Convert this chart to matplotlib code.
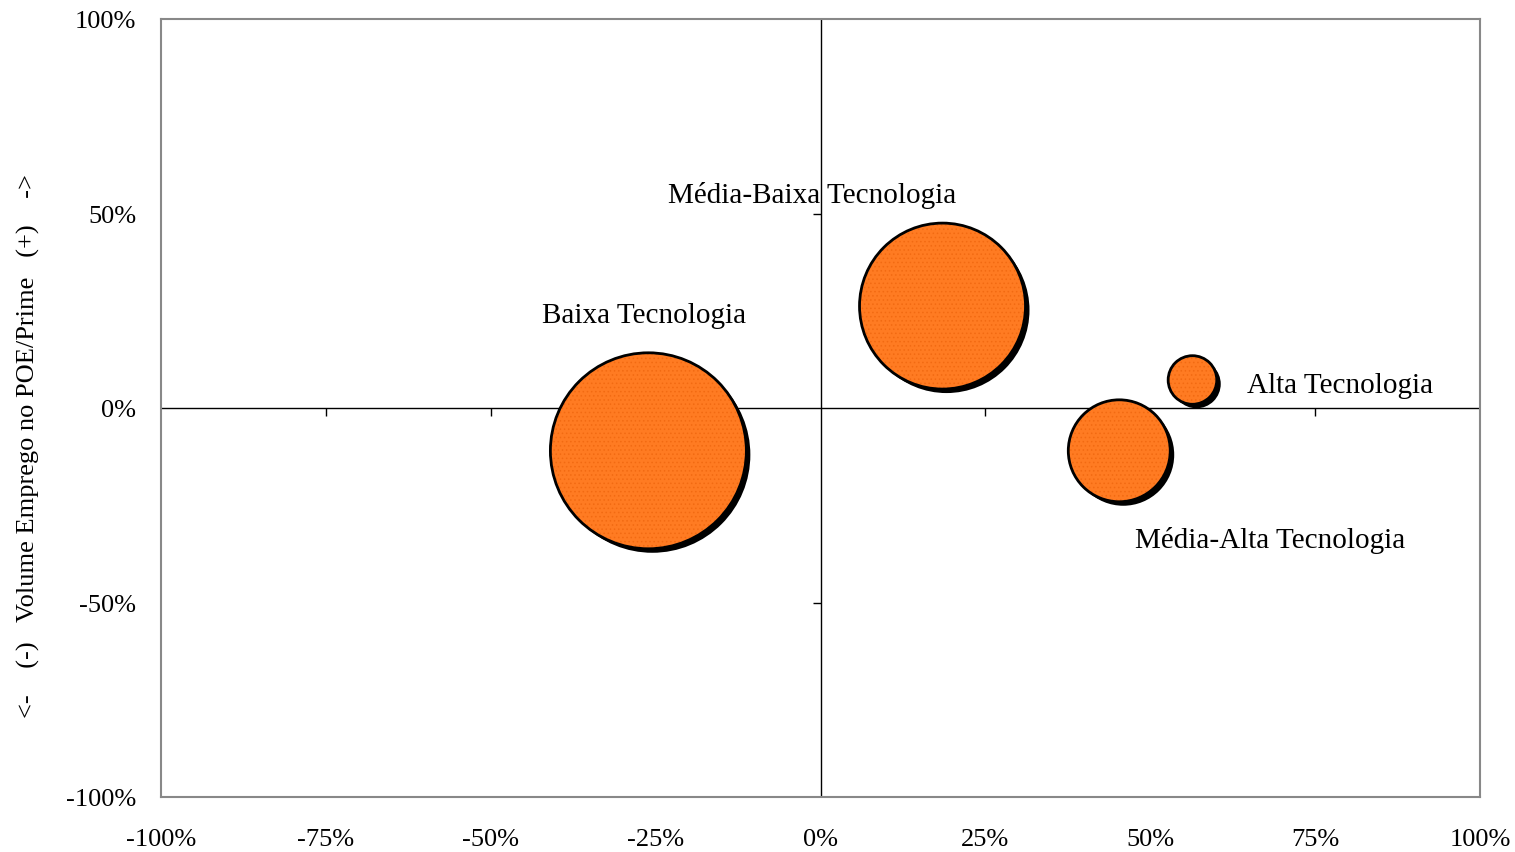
import matplotlib
matplotlib.use("Agg")
import matplotlib.pyplot as plt
import matplotlib.transforms as mtransforms
from matplotlib.ticker import PercentFormatter

# grupos tecnológicos: variação (%) e peso no emprego
grupos = ["Baixa Tecnologia", "Média-Baixa Tecnologia",
          "Média-Alta Tecnologia", "Alta Tecnologia"]
var_x = [-26.1, 18.5, 45.3, 56.4]
var_y = [-11.0, 26.2, -11.0, 7.2]
peso = [48.8, 35.0, 13.2, 3.0]

ticks_x = [-100, -75, -50, -25, 0, 25, 50, 75, 100]
ticks_y = [-100, -50, 0, 50, 100]

# posição dos rótulos (em % nos eixos)
rot_x = [-26.7, -1.2, 68.2, 78.8]
rot_y = [23.8, 54.9, -33.8, 5.8]

plt.rcParams["font.family"] = ["Liberation Serif", "DejaVu Serif"]
plt.rcParams["axes.unicode_minus"] = False

fig = plt.figure(figsize=(15.15, 8.53), dpi=100)
ax = fig.add_axes([161 / 1515, 1 - 798 / 853, 1319 / 1515, 778 / 853])
ax.set_xlim(-100, 100)
ax.set_ylim(-100, 100)

for s in ax.spines.values():
    s.set_color("#888888")
    s.set_linewidth(1.5)

ax.set_xticks(ticks_x)
ax.set_yticks(ticks_y)
ax.xaxis.set_major_formatter(PercentFormatter(decimals=0))
ax.yaxis.set_major_formatter(PercentFormatter(decimals=0))
ax.tick_params(length=0, labelsize=19, colors="black")
ax.tick_params(axis="x", pad=22)
ax.tick_params(axis="y", pad=18)

# eixos no zero com marcas
ax.axhline(0, color="black", lw=1.0, zorder=1)
ax.axvline(0, color="black", lw=1.0, zorder=1)
ax.plot([t for t in ticks_x if t not in (-100, 0, 100)], [0] * 6,
        ls="none", marker=3, ms=6, mew=1.0, color="black", zorder=1)
ax.plot([0, 0], [t for t in ticks_y if t not in (-100, 0, 100)],
        ls="none", marker=0, ms=6, mew=1.0, color="black", zorder=1)

tam = [p * 408 for p in peso]
sombra = mtransforms.offset_copy(ax.transData, fig=fig, x=4, y=-4, units="dots")
ax.scatter(var_x, var_y, s=tam, color="black", lw=0, transform=sombra, zorder=2)
plt.rcParams["hatch.linewidth"] = 0.6
ax.scatter(var_x, var_y, s=tam, facecolor="#FF7B22", edgecolor="#F26A12",
           hatch="....", lw=0, zorder=3)
ax.scatter(var_x, var_y, s=tam, facecolor="none", edgecolor="black",
           lw=2, zorder=4)

for nome, x, y in zip(grupos, rot_x, rot_y):
    ax.text(x, y, nome, ha="center", va="center", fontsize=21, zorder=5)

fig.text(28 / 1515, 1 - 446 / 853,
         "<-    (-)   Volume Emprego no POE/Prime   (+)    ->",
         rotation=90, ha="center", va="center", fontsize=19)

fig.savefig("out.png", dpi=100)
